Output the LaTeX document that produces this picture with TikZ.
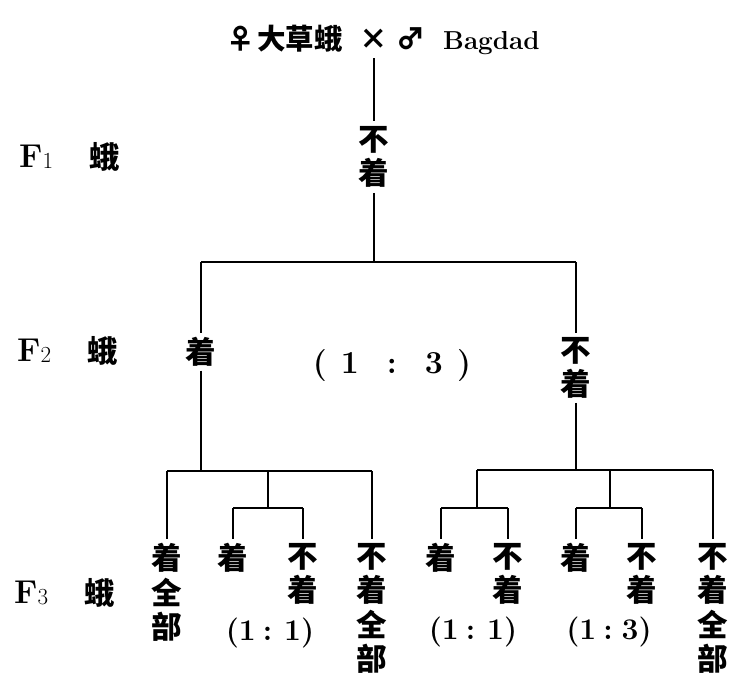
\documentclass[tikz,border=0pt]{standalone}
\usepackage{fontspec}
\newfontfamily\cjk{Noto Sans CJK SC}
\begin{document}
\begin{tikzpicture}[x=1pt,y=-1pt,
  vl/.style={line width=2pt},
  bar/.style={line width=2.8pt},
  zi/.style={font=\cjk\bfseries\fontsize{30.5}{34.5}\selectfont, inner sep=0pt, align=center, anchor=north},
  tt/.style={font=\cjk\bfseries\fontsize{28.5}{28.5}\selectfont, inner sep=0pt},
  ratio/.style={font=\bfseries\fontsize{30}{30}\selectfont, inner sep=0pt},
  flab/.style={font=\bfseries\fontsize{33}{33}\selectfont, inner sep=0pt, anchor=base west},
  moth/.style={font=\cjk\bfseries\fontsize{30.5}{30.5}\selectfont, inner sep=0pt}
]
\useasboundingbox (0,0) rectangle (742,686);
% title
\node[tt] (tf) at (241,39) {♀};
\node[tt] (tc) at (300,39) {大草蛾};
\node[tt] (tx) at (374,39) {×};
\node[tt] (tm) at (411,39) {♂};
\node[font=\bfseries\fontsize{26}{26}\selectfont, inner sep=0pt, anchor=base west] (tb) at (443,49) {Bagdad};
% generation labels
\node[flab] (f1) at (19,167) {F\raisebox{-1pt}{\mdseries\fontsize{23}{23}\selectfont 1}};
\node[flab] (f2) at (17,361) {F\raisebox{-1pt}{\mdseries\fontsize{23}{23}\selectfont 2}};
\node[flab] (f3) at (14,603) {F\raisebox{-1pt}{\mdseries\fontsize{23}{23}\selectfont 3}};
\node[moth] (m1) at (105,157) {蛾};
\node[moth] (m2) at (103,351) {蛾};
\node[moth] (m3) at (100,593) {蛾};
% F1
\coordinate (p0) at (374,58);
\node[zi] (c1) at (374,126) {不\\着};
\draw[vl, shorten >=5pt] (p0) -- (c1.north);
\coordinate (b1L) at (201,262);
\coordinate (b1R) at (576,262);
\draw[vl, shorten <=5pt] (c1.south) -- (c1.south |- b1L);
\draw[bar] (b1L) -- (b1R);
% F2
\node[zi] (l2) at (201,337) {着};
\node[zi] (r2) at (576,337) {不\\着};
\draw[vl, shorten >=4pt] (b1L) -- (l2.north);
\draw[vl, shorten >=4pt] (b1R) -- (r2.north);
\node[font=\bfseries\fontsize{32}{32}\selectfont, inner sep=0pt] (q0) at (392,366) {(\hspace{14pt}1\hspace{28pt}:\hspace{28pt}3\hspace{14pt})};
\coordinate (b2L) at (167,471);
\coordinate (b2R) at (372,471);
\coordinate (b3L) at (477,470);
\coordinate (b3R) at (713,470);
\draw[vl, shorten <=4pt] (l2.south) -- (l2.south |- b2L);
\draw[vl, shorten <=4pt] (r2.south) -- (r2.south |- b3L);
\draw[bar] (b2L) -- (b2R);
\draw[bar] (b3L) -- (b3R);
% F3 nodes
\node[zi] (a1) at (167,543) {着\\全\\部};
\node[zi] (a2) at (233,543) {着};
\node[zi] (a3) at (303,543) {不\\着};
\node[zi] (a4) at (372,543) {不\\着\\全\\部};
\node[zi] (a5) at (441,543) {着};
\node[zi] (a6) at (508,543) {不\\着};
\node[zi] (a7) at (576,543) {着};
\node[zi] (a8) at (642,543) {不\\着};
\node[zi] (a9) at (713,543) {不\\着\\全\\部};
\node[ratio] (q1) at (270,633) {(1\hspace{7pt}:\hspace{12pt}1)};
\node[ratio] (q2) at (473,632) {(1\hspace{7pt}:\hspace{12pt}1)};
\node[ratio] (q3) at (609,632) {(1\hspace{7pt}:\hspace{9pt}3)};
% F3 connectors
\coordinate (s1) at (268,508);
\coordinate (s2) at (477,508);
\coordinate (s3) at (610,508);
\draw[vl, shorten >=4pt] (b2L) -- (a1.north);
\draw[vl, shorten >=4pt] (b2R) -- (a4.north);
\draw[vl] (s1 |- b2L) -- (s1);
\draw[bar] (a2.north |- s1) -- (a3.north |- s1);
\draw[vl, shorten >=4pt] (a2.north |- s1) -- (a2.north);
\draw[vl, shorten >=4pt] (a3.north |- s1) -- (a3.north);
\draw[vl] (b3L) -- (s2);
\draw[bar] (a5.north |- s2) -- (a6.north |- s2);
\draw[vl, shorten >=4pt] (a5.north |- s2) -- (a5.north);
\draw[vl, shorten >=4pt] (a6.north |- s2) -- (a6.north);
\draw[vl] (s3 |- b3L) -- (s3);
\draw[bar] (a7.north |- s3) -- (a8.north |- s3);
\draw[vl, shorten >=4pt] (a7.north |- s3) -- (a7.north);
\draw[vl, shorten >=4pt] (a8.north |- s3) -- (a8.north);
\draw[vl, shorten >=4pt] (b3R) -- (a9.north);
\end{tikzpicture}
\end{document}
